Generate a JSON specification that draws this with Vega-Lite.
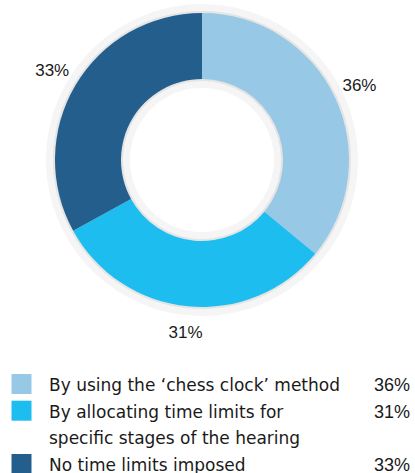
{
  "$schema": "https://vega.github.io/schema/vega-lite/v6.json",
  "padding": 0,
  "spacing": 40,
  "bounds": "flush",
  "background": "white",
  "config": {"view": {"stroke": null}, "font": "Liberation Sans", "text": {"font": "Liberation Sans"}},
  "datasets": {
    "slices": [
      {"category": "By using the ‘chess clock’ method", "share": 36, "label": "36%", "order": 1},
      {"category": "By allocating time limits for specific stages of the hearing", "share": 31, "label": "31%", "order": 2},
      {"category": "No time limits imposed", "share": 33, "label": "33%", "order": 3}
    ],
    "legendLines": [
      {"line": 1, "category": "By using the ‘chess clock’ method", "text": "By using the ‘chess clock’ method", "pct": "36%", "first": true},
      {"line": 2, "category": "By allocating time limits for specific stages of the hearing", "text": "By allocating time limits for", "pct": "31%", "first": true},
      {"line": 3, "category": "By allocating time limits for specific stages of the hearing", "text": "specific stages of the hearing", "pct": "", "first": false},
      {"line": 4, "category": "No time limits imposed", "text": "No time limits imposed", "pct": "33%", "first": true}
    ]
  },
  "vconcat": [
    {
      "width": 404,
      "height": 320,
      "data": {"name": "slices"},
      "encoding": {
        "theta": {"field": "share", "type": "quantitative", "stack": true},
        "order": {"field": "order", "type": "quantitative"}
      },
      "layer": [
        {"mark": {"type": "arc", "outerRadius": 156, "innerRadius": 72, "color": "#000000", "opacity": 0.04}},
        {"mark": {"type": "arc", "outerRadius": 149, "innerRadius": 79, "color": "#e4e4e4"}},
        {
          "mark": {"type": "arc", "outerRadius": 147, "innerRadius": 81},
          "encoding": {
            "color": {
              "field": "category", "type": "nominal",
              "scale": {
                "domain": ["By using the ‘chess clock’ method", "By allocating time limits for specific stages of the hearing", "No time limits imposed"],
                "range": ["#97c8e6", "#1dbdf0", "#235e8c"]
              },
              "legend": null
            }
          }
        },
        {
          "mark": {"type": "text", "radius": 174, "fontSize": 17, "color": "#1a1a1a"},
          "encoding": {"text": {"field": "label", "type": "nominal"}}
        }
      ]
    },
    {
      "width": 415,
      "height": 113,
      "data": {"name": "legendLines"},
      "encoding": {
        "y": {"field": "line", "type": "ordinal", "scale": {"type": "point", "padding": 0.619, "align": 0.94}, "axis": null}
      },
      "layer": [
        {
          "transform": [{"filter": "datum.first"}],
          "mark": {"type": "square", "size": 400, "opacity": 1, "yOffset": -7},
          "encoding": {
            "x": {"value": 21.5},
            "color": {"field": "category", "type": "nominal", "legend": null}
          }
        },
        {
          "mark": {"type": "text", "align": "left", "baseline": "alphabetic", "font": "DejaVu Sans", "fontSize": 17, "color": "#1a1a1a", "clip": true},
          "encoding": {"x": {"value": 49}, "text": {"field": "text", "type": "nominal"}}
        },
        {
          "mark": {"type": "text", "align": "right", "baseline": "alphabetic", "fontSize": 18, "color": "#1a1a1a", "clip": true},
          "encoding": {"x": {"value": 410}, "text": {"field": "pct", "type": "nominal"}}
        }
      ]
    }
  ]
}
